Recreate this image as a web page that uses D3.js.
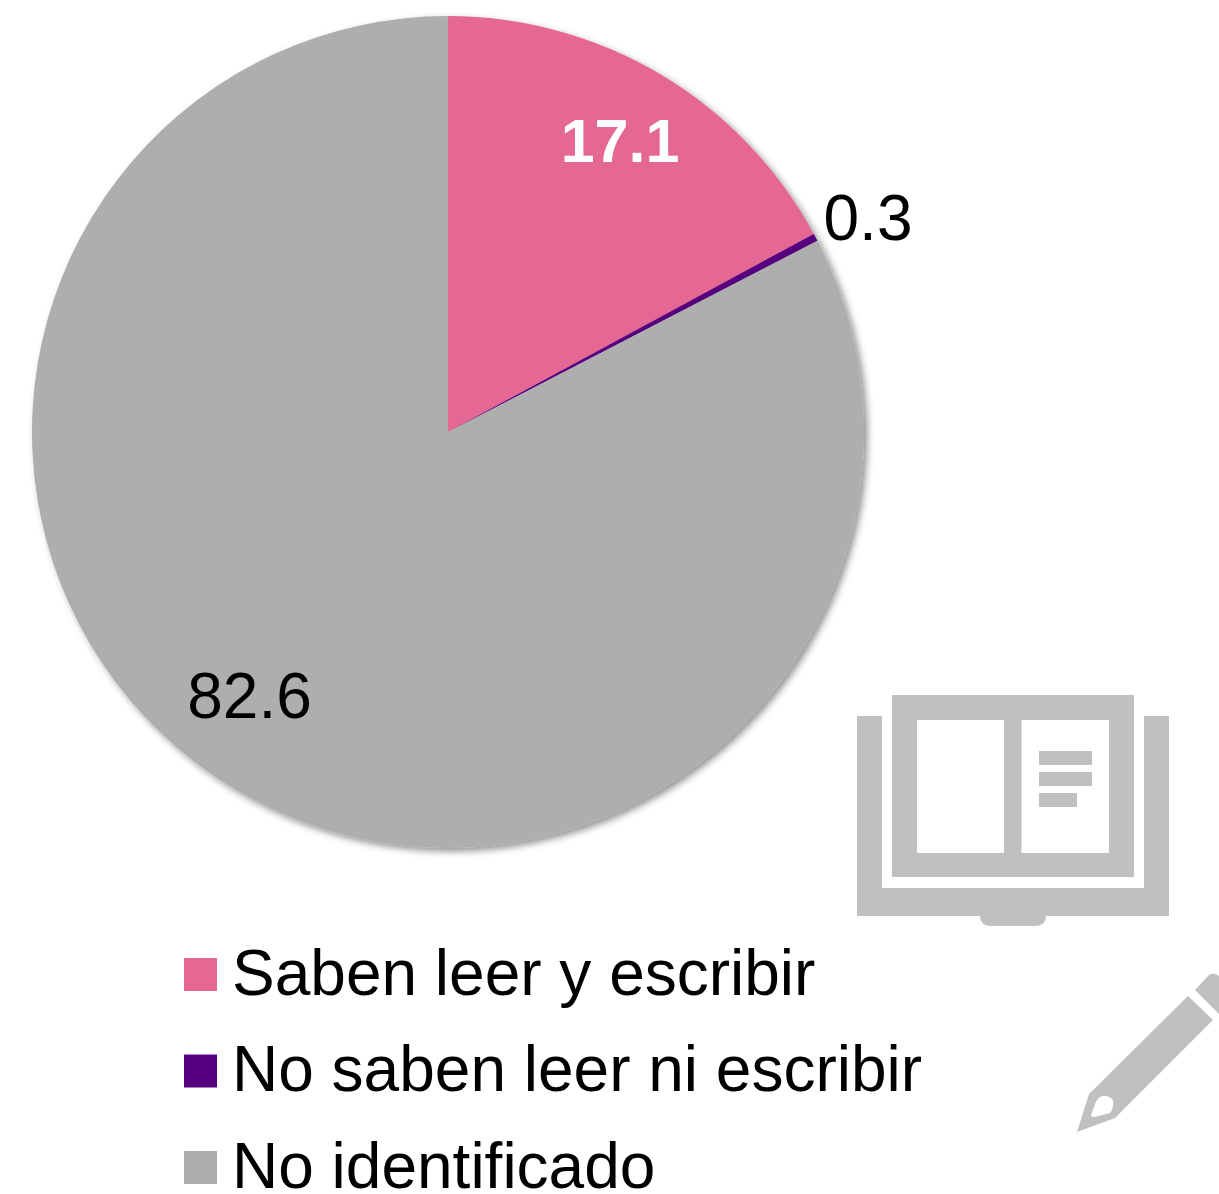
<!DOCTYPE html>
<html><head><meta charset="utf-8">
<script src="https://cdn.jsdelivr.net/npm/d3@7"></script>
<style>html,body{margin:0;padding:0;background:#fff}svg{display:block}text{font-family:"Liberation Sans",Arial,sans-serif}</style>
</head><body><div id="c"></div>
<script>
const categories = ["Saben leer y escribir","No saben leer ni escribir","No identificado"];
const values = [17.1,0.3,82.6];
const labels = ["17.1","0.3","82.6"];
const colors = ["#e56794","#56007f","#aeaeae"];
const W=1219,H=1194,cx=448,cy=432,R=416;
const svg=d3.select("#c").append("svg").attr("width",W).attr("height",H);
const f=svg.append("defs").append("filter").attr("id","sh").attr("x","-5%").attr("y","-5%").attr("width","110%").attr("height","110%");
f.append("feDropShadow").attr("dx",3.5).attr("dy",3.5).attr("stdDeviation",3.5).attr("flood-color","#000").attr("flood-opacity",0.42);
const pie=d3.pie().sort(null).value(d=>d)(values);
const arc=d3.arc().innerRadius(0).outerRadius(R);
svg.append("g").attr("transform",`translate(${cx},${cy})`).attr("filter","url(#sh)")
 .selectAll("path").data(pie).join("path").attr("d",arc).attr("fill",(d,i)=>colors[i]);
const lx=[620,868,249.5], ly=[141,218,696];
const fs=[61,64,64];
svg.selectAll("text.lab").data(labels).join("text").attr("class","lab")
 .attr("x",(d,i)=>lx[i]).attr("y",(d,i)=>ly[i]).attr("dy","0.35em")
 .attr("text-anchor","middle").attr("font-size",(d,i)=>fs[i])
 .attr("font-weight",(d,i)=>i==0?"bold":"normal").attr("fill",(d,i)=>i==0?"#fff":"#000").text(d=>d);
const leg=svg.append("g").selectAll("g").data(categories).join("g").attr("transform",(d,i)=>`translate(184,${958+i*96.5})`);
leg.append("rect").attr("width",33).attr("height",33).attr("fill",(d,i)=>colors[i]);
leg.append("text").attr("x",48).attr("y",14.5).attr("dy","0.35em").attr("font-size",64).attr("fill","#000").text(d=>d);
const ic="#c0c0c0";
svg.append("path").attr("fill",ic).attr("fill-rule","evenodd").attr("d",
 "M857,716H882V888H1144V716H1169V916H1046Q1046,926 1034,926H992Q980,926 980,916H857Z"+
 "M892,695H1134V877H892Z M917,720V853H1004V720Z M1021.5,720V853H1109V720Z"+
 "M1039,751H1092V765H1039Z M1039,772H1092V786H1039Z M1039,793H1077V807H1039Z");
svg.append("path").attr("fill",ic).attr("fill-rule","evenodd").attr("d",
 "M1188,996L1213,1020L1115,1118L1077,1132L1089,1094Z"+
 "M1102,1096Q1108,1095 1113,1100Q1114,1108 1110,1113L1095,1117Q1091,1117 1091,1115L1095,1104Q1097,1098 1102,1096Z"+
 "M1195,990L1209,975Q1214,972 1219,976V1014Z");
</script></body></html>
